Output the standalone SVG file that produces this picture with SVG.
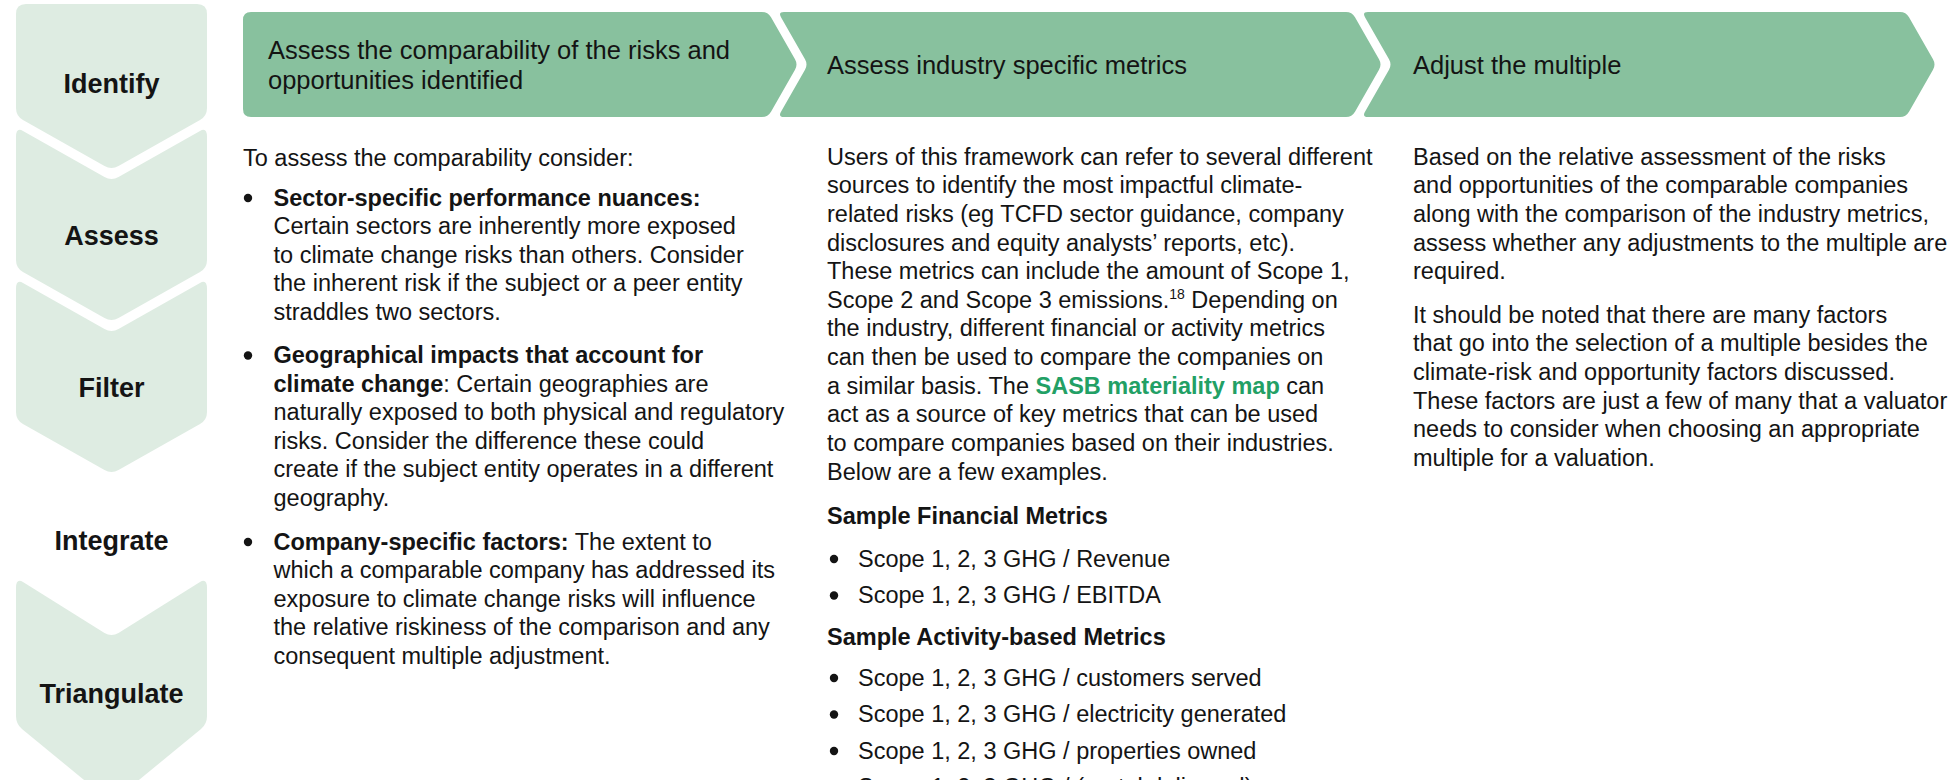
<svg xmlns="http://www.w3.org/2000/svg" width="1957" height="780" viewBox="0 0 1957 780">
<style>
text{font-family:'Liberation Sans',Arial,Helvetica,sans-serif;fill:#141414}
.step{fill:#deece2}
.hdr{fill:#88c19e}
.lbl{font-size:27px;font-weight:bold;text-anchor:middle}
.htxt{font-size:25.5px}
.body{font-size:23.5px}
.b{font-weight:bold}
.link{font-weight:bold;fill:#22a065}
.dot{fill:#141414}
</style>
<rect width="1957" height="780" fill="#ffffff"/>
<g id="steps">
<g id="step-identify">
<path class="step" d="M16,14 Q16,4 26,4 H197 Q207,4 207,14 V108 Q207,116 200,120 L118.5,166 Q111.5,170 104.5,166 L23,120 Q16,116 16,108 Z"/>
<text class="lbl" x="111.5" y="93">Identify</text>
</g>
<g id="step-assess">
<path class="step" d="M16,137 Q16,127 23,131 L104.5,177 Q111.5,181 118.5,177 L200,131 Q207,127 207,137 V260 Q207,268 200,272 L118.5,318 Q111.5,322 104.5,318 L23,272 Q16,268 16,260 Z"/>
<text class="lbl" x="111.5" y="245">Assess</text>
</g>
<g id="step-filter">
<path class="step" d="M16,289 Q16,279 23,283 L104.5,329 Q111.5,333 118.5,329 L200,283 Q207,279 207,289 V412 Q207,420 200,424 L118.5,470 Q111.5,474 104.5,470 L23,424 Q16,420 16,412 Z"/>
<text class="lbl" x="111.5" y="397">Filter</text>
</g>
<g id="step-integrate">
<text class="lbl" x="111.5" y="550">Integrate</text>
</g>
<g id="step-triangulate">
<path class="step" d="M16,588 Q16,578 23,582 L104.5,633 Q111.5,637 118.5,633 L200,582 Q207,578 207,588 V716 Q207,724 201,729 L117,798 Q111.5,802 106,798 L22,729 Q16,724 16,716 Z"/>
<text class="lbl" x="111.5" y="703">Triangulate</text>
</g>
</g>
<g id="headers">
<g id="header-1">
<path class="hdr" d="M251,12 H762 Q768,12 771,17.2 L795,59.3 Q798,64.5 795,69.7 L771,111.8 Q768,117 762,117 H251 Q243,117 243,109 V20 Q243,12 251,12 Z"/>
<text class="htxt" x="268" y="58.5">Assess the comparability of the risks and</text>
<text class="htxt" x="268" y="88.5">opportunities identified</text>
</g>
<g id="header-2">
<path class="hdr" d="M784,12 H1346 Q1352,12 1355,17.2 L1379,59.3 Q1382,64.5 1379,69.7 L1355,111.8 Q1352,117 1346,117 H784 Q778,117 781,111.8 L805,69.7 Q808,64.5 805,59.3 L781,17.2 Q778,12 784,12 Z"/>
<text class="htxt" x="827" y="73.5">Assess industry specific metrics</text>
</g>
<g id="header-3">
<path class="hdr" d="M1368,12 H1900 Q1906,12 1909,17.2 L1933,59.3 Q1936,64.5 1933,69.7 L1909,111.8 Q1906,117 1900,117 H1368 Q1362,117 1365,111.8 L1389,69.7 Q1392,64.5 1389,59.3 L1365,17.2 Q1362,12 1368,12 Z"/>
<text class="htxt" x="1413" y="73.5">Adjust the multiple</text>
</g>
</g>
<g id="connectors"></g>
<g id="column-1" class="body">
<text class="body" x="243" y="165.5">To assess the comparability consider:</text>
<circle class="dot" cx="248" cy="198" r="4.2"/>
<text class="body b" x="273.5" y="205.5">Sector-specific performance nuances:</text>
<text class="body" x="273.5" y="234">Certain sectors are inherently more exposed</text>
<text class="body" x="273.5" y="262.5">to climate change risks than others. Consider</text>
<text class="body" x="273.5" y="291">the inherent risk if the subject or a peer entity</text>
<text class="body" x="273.5" y="319.5">straddles two sectors.</text>
<circle class="dot" cx="248" cy="355.5" r="4.2"/>
<text class="body b" x="273.5" y="363">Geographical impacts that account for</text>
<text class="body" x="273.5" y="391.6"><tspan class="b">climate change</tspan>: Certain geographies are</text>
<text class="body" x="273.5" y="420.2">naturally exposed to both physical and regulatory</text>
<text class="body" x="273.5" y="448.8">risks. Consider the difference these could</text>
<text class="body" x="273.5" y="477.4">create if the subject entity operates in a different</text>
<text class="body" x="273.5" y="506">geography.</text>
<circle class="dot" cx="248" cy="542" r="4.2"/>
<text class="body" x="273.5" y="549.5"><tspan class="b">Company-specific factors:</tspan> The extent to</text>
<text class="body" x="273.5" y="578.1">which a comparable company has addressed its</text>
<text class="body" x="273.5" y="606.7">exposure to climate change risks will influence</text>
<text class="body" x="273.5" y="635.3">the relative riskiness of the comparison and any</text>
<text class="body" x="273.5" y="663.9">consequent multiple adjustment.</text>
</g>
<g id="column-2">
<text class="body" x="827" y="164.5">Users of this framework can refer to several different</text>
<text class="body" x="827" y="193.2">sources to identify the most impactful climate-</text>
<text class="body" x="827" y="221.8">related risks (eg TCFD sector guidance, company</text>
<text class="body" x="827" y="250.5">disclosures and equity analysts’ reports, etc).</text>
<text class="body" x="827" y="279.1">These metrics can include the amount of Scope 1,</text>
<text class="body" x="827" y="307.8">Scope 2 and Scope 3 emissions.<tspan font-size="14" dy="-9">18</tspan><tspan dy="9"> Depending on</tspan></text>
<text class="body" x="827" y="336.4">the industry, different financial or activity metrics</text>
<text class="body" x="827" y="365.1">can then be used to compare the companies on</text>
<text class="body" x="827" y="393.7">a similar basis. The <tspan class="link">SASB materiality map</tspan> can</text>
<text class="body" x="827" y="422.4">act as a source of key metrics that can be used</text>
<text class="body" x="827" y="451">to compare companies based on their industries.</text>
<text class="body" x="827" y="479.7">Below are a few examples.</text>
<text class="body b" x="827" y="524">Sample Financial Metrics</text>
<circle class="dot" cx="834" cy="559" r="4.2"/>
<text class="body" x="858" y="566.5">Scope 1, 2, 3 GHG / Revenue</text>
<circle class="dot" cx="834" cy="595.5" r="4.2"/>
<text class="body" x="858" y="603">Scope 1, 2, 3 GHG / EBITDA</text>
<text class="body b" x="827" y="644.5">Sample Activity-based Metrics</text>
<circle class="dot" cx="834" cy="678" r="4.2"/>
<text class="body" x="858" y="685.5">Scope 1, 2, 3 GHG / customers served</text>
<circle class="dot" cx="834" cy="714.5" r="4.2"/>
<text class="body" x="858" y="722">Scope 1, 2, 3 GHG / electricity generated</text>
<circle class="dot" cx="834" cy="751" r="4.2"/>
<text class="body" x="858" y="758.5">Scope 1, 2, 3 GHG / properties owned</text>
<text class="body" x="858" y="795">Scope 1, 2, 3 GHG / (rental delivered)</text>
</g>
<g id="column-3">
<text class="body" x="1413" y="164.5">Based on the relative assessment of the risks</text>
<text class="body" x="1413" y="193.2">and opportunities of the comparable companies</text>
<text class="body" x="1413" y="221.8">along with the comparison of the industry metrics,</text>
<text class="body" x="1413" y="250.5">assess whether any adjustments to the multiple are</text>
<text class="body" x="1413" y="279.1">required.</text>
<text class="body" x="1413" y="322.8">It should be noted that there are many factors</text>
<text class="body" x="1413" y="351.4">that go into the selection of a multiple besides the</text>
<text class="body" x="1413" y="380.1">climate-risk and opportunity factors discussed.</text>
<text class="body" x="1413" y="408.7">These factors are just a few of many that a valuator</text>
<text class="body" x="1413" y="437.4">needs to consider when choosing an appropriate</text>
<text class="body" x="1413" y="466">multiple for a valuation.</text>
</g>
</svg>
